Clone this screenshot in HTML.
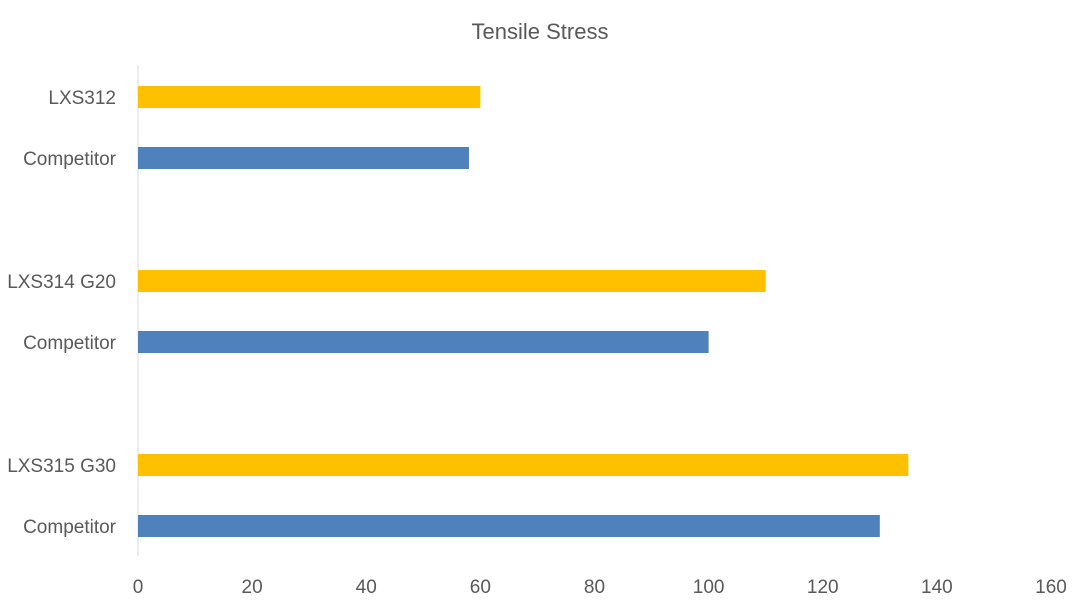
<!DOCTYPE html>
<html><head><meta charset="utf-8"><style>
body{margin:0;background:#fff;}
svg text{font-family:"Liberation Sans",sans-serif;fill:#595959;}
</style></head><body>
<svg id="chart" width="1080" height="608">
<text x="540" y="39" text-anchor="middle" font-size="22">Tensile Stress</text>
<line x1="138" y1="65" x2="138" y2="556" stroke="#d9d9d9" stroke-width="1"/>
<g id="bars"></g><g id="ylabels"></g><g id="xticks"></g>
</svg>
<script>
const categories=["LXS312","Competitor","LXS314 G20","Competitor","LXS315 G30","Competitor"];
const values=[60,58,110,100,135,130];
const colors=["#ffc000","#4f81bd","#ffc000","#4f81bd","#ffc000","#4f81bd"];
const xTicks=[0,20,40,60,80,100,120,140,160];
const ns="http://www.w3.org/2000/svg";
const x0=138,x1=1051,xMax=160;
function xs(v){return x0+(x1-x0)*v/xMax;}
const centers=[97,158,281,342,465,526];
function ys(i){return centers[i];}
const bars=document.getElementById('bars'),yl=document.getElementById('ylabels'),xt=document.getElementById('xticks');
categories.forEach((c,i)=>{
 const r=document.createElementNS(ns,'rect');
 r.setAttribute('x',xs(0));r.setAttribute('y',ys(i)-11);
 r.setAttribute('width',xs(values[i])-xs(0));r.setAttribute('height',22);
 r.setAttribute('fill',colors[i]);
 
 
 bars.appendChild(r);
 const t=document.createElementNS(ns,'text');
 t.setAttribute('x',116);t.setAttribute('y',ys(i)+7);t.setAttribute('text-anchor','end');t.setAttribute('font-size','19');
 t.textContent=c;
 
 
 yl.appendChild(t);
});
xTicks.forEach(v=>{
 const t=document.createElementNS(ns,'text');
 t.setAttribute('x',xs(v));t.setAttribute('y',593);t.setAttribute('text-anchor','middle');t.setAttribute('font-size','19');
 t.textContent=v;
 
 
 xt.appendChild(t);
});
</script>
</body></html>
